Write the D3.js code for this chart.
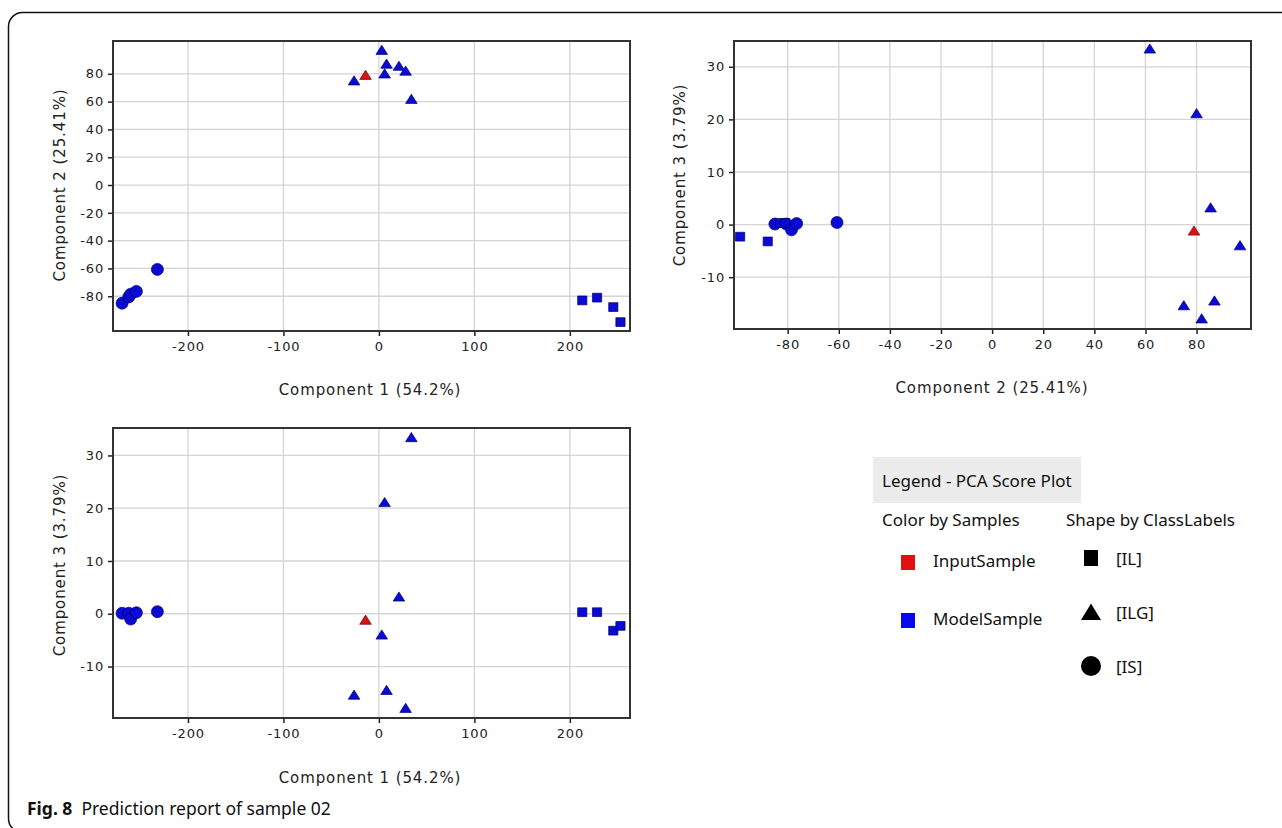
<!DOCTYPE html>
<html>
<head>
<meta charset="utf-8">
<script src="https://cdn.jsdelivr.net/npm/d3@7"></script>
<style>
  body { margin: 0; background: #fff; }
  svg { display: block; }
  .tick text { font-family: "DejaVu Sans", sans-serif; font-size: 13px; fill: #222; letter-spacing: 0.8px; }
  .axlab { font-family: "DejaVu Sans", sans-serif; font-size: 15px; fill: #222; letter-spacing: 0.9px; }
  .leg { font-family: "Noto Sans", sans-serif; font-size: 17px; fill: #111; }
</style>
</head>
<body>
<div id="chart"></div>
<script>
// scores of each sample on PC1, PC2, PC3
var sampleType = ['input', 'model', 'model', 'model', 'model', 'model', 'model', 'model',
                  'model', 'model', 'model', 'model', 'model',
                  'model', 'model', 'model', 'model'];
var classLabel = ['ILG', 'ILG', 'ILG', 'ILG', 'ILG', 'ILG', 'ILG', 'ILG',
                  'IS', 'IS', 'IS', 'IS', 'IS',
                  'IL', 'IL', 'IL', 'IL'];
var pc1 = [-14, 3, 8, 21, 28, 6, -26, 34,
           -269, -262, -260, -254, -232,
           213, 228.5, 245.5, 253];
var pc2 = [79, 97, 87, 85.5, 82, 80, 75, 61.7,
           -85, -80.5, -78.5, -76.5, -60.7,
           -83, -81, -87.8, -98.6];
var pc3 = [-1.2, -4, -14.5, 3.2, -17.9, 21.1, -15.4, 33.4,
           0.1, 0.1, -1, 0.2, 0.4,
           0.3, 0.3, -3.2, -2.3];

var ticksPC1 = [-200, -100, 0, 100, 200];
var ticksPC2 = [-80, -60, -40, -20, 0, 20, 40, 60, 80];
var ticksPC3 = [-10, 0, 10, 20, 30];

var labelPC1 = 'Component 1 (54.2%)';
var labelPC2 = 'Component 2 (25.41%)';
var labelPC3 = 'Component 3 (3.79%)';

var colorNames = ['InputSample', 'ModelSample'];
var shapeNames = ['[IL]', '[ILG]', '[IS]'];

var W = 1282, H = 828;
var blue = '#0a0ad2', red = '#d41414';

var svg = d3.select('#chart').append('svg')
    .attr('width', W)
    .attr('height', H);

// outer figure frame (rounded, runs off the right side)
svg.append('rect')
    .attr('x', 8.5).attr('y', 12.5)
    .attr('width', 1300).attr('height', 820)
    .attr('rx', 14)
    .attr('fill', 'none')
    .attr('stroke', '#111')
    .attr('stroke-width', 1.5);

var rows = d3.range(pc1.length).map(function (i) {
    return {pc1: pc1[i], pc2: pc2[i], pc3: pc3[i], type: sampleType[i], cls: classLabel[i]};
});
// blue first, red on top
rows.sort(function (a, b) { return (a.type === 'input') - (b.type === 'input'); });

var shapes = {
    ILG: {draw: function (c) { c.moveTo(0, -5); c.lineTo(5.8, 4.2); c.lineTo(-5.8, 4.2); c.closePath(); }},
    IL: {draw: function (c) { c.rect(-4.6, -4.4, 9.2, 8.8); }},
    IS: {draw: function (c) { c.moveTo(6, 0); c.arc(0, 0, 6, 0, 2 * Math.PI); }}
};

var panels = [
    {xk: 'pc1', yk: 'pc2', box: [113, 41, 630, 331], xd: [-278.5, 263], yd: [-105, 103.6],
        xt: ticksPC1, yt: ticksPC2, xl: labelPC1, yl: labelPC2, xlp: [370, 395], ylp: [65, 185]},
    {xk: 'pc2', yk: 'pc3', box: [734, 41, 1251, 329], xd: [-101, 101.3], yd: [-19.85, 34.9],
        xt: ticksPC2, yt: ticksPC3, xl: labelPC2, yl: labelPC3, xlp: [992, 393], ylp: [685, 175]},
    {xk: 'pc1', yk: 'pc3', box: [113, 428, 630, 718], xd: [-278.5, 263], yd: [-19.75, 35.2],
        xt: ticksPC1, yt: ticksPC3, xl: labelPC1, yl: labelPC3, xlp: [370, 783], ylp: [65, 565]}
];

panels.forEach(function (p) {
    var x = d3.scaleLinear().domain(p.xd).range([p.box[0], p.box[2]]);
    var y = d3.scaleLinear().domain(p.yd).range([p.box[3], p.box[1]]);
    var g = svg.append('g');

    g.selectAll('line.vg').data(p.xt).enter().append('line')
        .attr('x1', x).attr('x2', x)
        .attr('y1', p.box[1]).attr('y2', p.box[3])
        .attr('stroke', '#d4d4d4').attr('stroke-width', 1.3);
    g.selectAll('line.hg').data(p.yt).enter().append('line')
        .attr('y1', y).attr('y2', y)
        .attr('x1', p.box[0]).attr('x2', p.box[2])
        .attr('stroke', '#d4d4d4').attr('stroke-width', 1.3);

    var xa = g.append('g')
        .attr('transform', 'translate(0,' + p.box[3] + ')')
        .call(d3.axisBottom(x).tickValues(p.xt).tickSize(5).tickPadding(6)
            .tickFormat(function (d) { return String(d); }));
    var ya = g.append('g')
        .attr('transform', 'translate(' + p.box[0] + ',0)')
        .call(d3.axisLeft(y).tickValues(p.yt).tickSize(5).tickPadding(4)
            .tickFormat(function (d) { return String(d); }));
    [xa, ya].forEach(function (a) {
        a.select('.domain').remove();
        a.selectAll('.tick line').attr('stroke', '#222').attr('stroke-width', 1.5);
    });

    g.append('rect')
        .attr('x', p.box[0]).attr('y', p.box[1])
        .attr('width', p.box[2] - p.box[0]).attr('height', p.box[3] - p.box[1])
        .attr('fill', 'none').attr('stroke', '#333').attr('stroke-width', 2);

    g.selectAll('path.pt').data(rows).enter().append('path')
        .attr('class', 'pt')
        .attr('transform', function (d) { return 'translate(' + x(d[p.xk]) + ',' + y(d[p.yk]) + ')'; })
        .attr('d', function (d) { return d3.symbol().type(shapes[d.cls]).size(1)(); })
        .attr('fill', function (d) { return d.type === 'input' ? red : blue; })
        .attr('stroke', function (d) { return d.type === 'input' ? '#700' : '#000070'; })
        .attr('stroke-width', 0.7);

    g.append('text').attr('class', 'axlab')
        .attr('x', p.xlp[0]).attr('y', p.xlp[1])
        .attr('text-anchor', 'middle')
        .text(p.xl);
    g.append('text').attr('class', 'axlab')
        .attr('transform', 'translate(' + p.ylp[0] + ',' + p.ylp[1] + ') rotate(-90)')
        .attr('text-anchor', 'middle')
        .text(p.yl);
});

// legend
var leg = svg.append('g');
leg.append('rect')
    .attr('x', 873).attr('y', 457).attr('width', 208).attr('height', 46)
    .attr('fill', '#ececec');
leg.append('text').attr('class', 'leg').attr('x', 882).attr('y', 487).text('Legend - PCA Score Plot');
leg.append('text').attr('class', 'leg').attr('x', 882).attr('y', 526).text('Color by Samples');
leg.append('text').attr('class', 'leg').attr('x', 1066).attr('y', 526).text('Shape by ClassLabels');

leg.selectAll('rect.sw').data(colorNames).enter().append('rect')
    .attr('x', 901).attr('y', function (d, i) { return 555 + i * 58; })
    .attr('width', 14).attr('height', 15)
    .attr('fill', function (d, i) { return i === 0 ? '#e01010' : '#0808f0'; });
leg.selectAll('text.cn').data(colorNames).enter().append('text')
    .attr('class', 'leg')
    .attr('x', 933).attr('y', function (d, i) { return 567 + i * 58; })
    .text(function (d) { return d; });

var legShapes = [
    {draw: function (c) { c.rect(-7, -8, 14, 16); }},
    {draw: function (c) { c.moveTo(0, -8.5); c.lineTo(10, 8); c.lineTo(-10, 8); c.closePath(); }},
    {draw: function (c) { c.moveTo(10, 0); c.arc(0, 0, 10, 0, 2 * Math.PI); }}
];
leg.selectAll('path.sh').data(shapeNames).enter().append('path')
    .attr('transform', function (d, i) { return 'translate(1091,' + (558 + i * 54) + ')'; })
    .attr('d', function (d, i) { return d3.symbol().type(legShapes[i]).size(1)(); })
    .attr('fill', '#000');
leg.selectAll('text.sn').data(shapeNames).enter().append('text')
    .attr('class', 'leg')
    .attr('x', 1116).attr('y', function (d, i) { return 565 + i * 54; })
    .text(function (d) { return d; });

// caption
var cap = svg.append('text')
    .attr('x', 27).attr('y', 815)
    .attr('font-family', 'Noto Sans, sans-serif')
    .attr('font-size', 17.5)
    .attr('fill', '#111');
cap.append('tspan').attr('font-weight', 'bold').text('Fig. 8');
cap.append('tspan').attr('dx', 9).text('Prediction report of sample 02');
</script>
</body>
</html>
